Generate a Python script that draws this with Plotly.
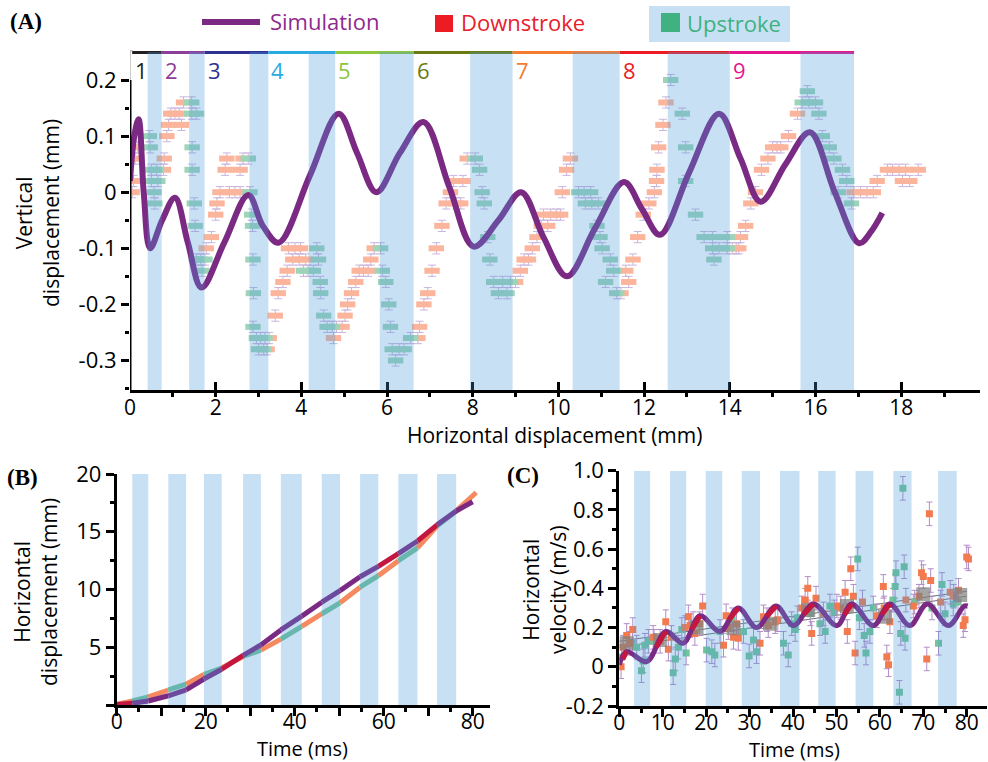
import plotly.graph_objects as go

W, H = 988, 762
FONT = "Open Sans"

# ---------------- Panel A data ----------------
A_band_start = [0.41, 1.38, 2.79, 4.17, 5.83, 7.94, 10.33, 12.55, 15.65]
A_band_end = [0.74, 1.74, 3.23, 4.79, 6.62, 8.93, 11.43, 14.00, 16.90]
stroke_labels = ["1", "2", "3", "4", "5", "6", "7", "8", "9"]
stroke_start = [0.05, 0.74, 1.74, 3.23, 4.79, 6.62, 8.93, 11.43, 14.00]
stroke_end = [0.74, 1.74, 3.23, 4.79, 6.62, 8.93, 11.43, 14.00, 16.90]
stroke_colors = ["#231f20", "#8b3f97", "#2e3092", "#29abe2", "#8dc63f",
                 "#6b7b12", "#f47b30", "#ed1c24", "#e4168a"]

sim_x = [0.0, 0.1, 0.2, 0.32, 0.47, 0.75, 1.05, 1.35, 1.67, 2.2, 2.76, 3.1, 3.47,
         4.2, 4.87, 5.3, 5.75, 6.3, 6.85, 7.45, 8.02, 8.6, 9.13, 9.65, 10.2,
         10.85, 11.53, 11.95, 12.37, 13.05, 13.75, 14.25, 14.72, 15.3, 15.87,
         16.45, 17.02, 17.3, 17.56]
sim_y = [0.02, 0.10, 0.13, 0.0, -0.10, -0.05, -0.01, -0.09, -0.17, -0.09, -0.005,
         -0.06, -0.09, 0.03, 0.14, 0.07, 0.0, 0.07, 0.125, 0.01, -0.097, -0.05,
         0.0, -0.08, -0.15, -0.065, 0.018, -0.03, -0.076, 0.035, 0.14, 0.06,
         -0.017, 0.05, 0.107, 0.0, -0.091, -0.07, -0.037]

down_x = [0.05, 0.08, 0.12, 0.18,
          0.78, 0.80, 0.86, 0.90, 0.95, 1.05, 1.15, 1.20, 1.25,
          1.78, 1.90, 2.00, 2.03, 2.10, 2.22, 2.26, 2.32, 2.45, 2.57, 2.57, 2.64,
          3.20, 3.25, 3.39, 3.46, 3.57, 3.67, 3.70, 3.80, 3.85, 3.95, 3.98, 4.10,
          4.75, 4.82, 4.95, 5.02, 5.08, 5.17, 5.27, 5.35, 5.45, 5.56, 5.62, 5.70,
          6.72, 6.76, 6.86, 6.95, 7.05, 7.15, 7.28, 7.38, 7.48, 7.55, 7.62, 7.72, 7.77, 7.87,
          9.00, 9.11, 9.20, 9.30, 9.39, 9.50, 9.60, 9.65, 9.75, 9.82, 9.95, 10.05, 10.09, 10.19, 10.28,
          11.46, 11.57, 11.64, 11.74, 11.85, 11.98, 12.11, 12.24, 12.29, 12.30, 12.34, 12.44, 12.51,
          14.06, 14.15, 14.21, 14.25, 14.37, 14.49, 14.60, 14.74, 14.89, 15.00, 15.10, 15.19, 15.37, 15.58,
          16.90, 17.05, 17.20, 17.35, 17.44, 17.68, 17.80, 17.95, 18.10, 18.03, 18.20, 18.40]
down_y = [0.0, 0.02, 0.06, 0.08,
          0.04, 0.06, 0.10, 0.12, 0.14, 0.14, 0.14, 0.12, 0.16,
          -0.10, -0.08, -0.04, -0.02, 0.0, 0.04, 0.06, 0.0, 0.0, 0.04, 0.0, 0.06,
          -0.28, -0.26, -0.22, -0.18, -0.16, -0.14, -0.10, -0.12, -0.10, -0.12, -0.10, -0.12,
          -0.26, -0.24, -0.24, -0.22, -0.20, -0.18, -0.16, -0.14, -0.14, -0.14, -0.12, -0.10,
          -0.26, -0.24, -0.20, -0.18, -0.14, -0.10, -0.06, -0.02, 0.0, 0.02, -0.02, -0.02, 0.02, 0.06,
          -0.16, -0.14, -0.12, -0.12, -0.10, -0.08, -0.06, -0.04, -0.06, -0.04, -0.04, -0.04, 0.0, 0.04, 0.06,
          -0.18, -0.14, -0.16, -0.12, -0.08, -0.04, -0.02, 0.0, 0.02, 0.04, 0.08, 0.12, 0.16,
          -0.10, -0.10, -0.10, -0.08, -0.06, -0.02, 0.0, 0.04, 0.06, 0.08, 0.08, 0.08, 0.10, 0.14,
          0.0, 0.0, 0.0, 0.0, 0.02, 0.04, 0.04, 0.04, 0.04, 0.02, 0.02, 0.04]

up_x = [0.45, 0.47, 0.50, 0.62, 0.50, 0.65, 0.56, 0.58,
        1.44, 1.44, 1.55, 1.45, 1.45, 1.50, 1.52, 1.55, 1.65, 1.75, 1.68,
        2.76, 2.80, 2.84, 2.86, 2.87, 2.88, 2.87, 2.95, 3.05, 3.00, 3.12, 3.15,
        4.05, 4.15, 4.28, 4.36, 4.40, 4.44, 4.45, 4.52, 4.60, 4.72,
        5.85, 5.89, 5.97, 6.04, 6.08, 6.12, 6.20, 6.28, 6.40, 6.55,
        8.06, 8.16, 8.22, 8.27, 8.35, 8.40, 8.49, 8.60, 8.70, 8.80, 8.88,
        10.47, 10.60, 10.75, 10.63, 10.78, 10.93, 10.90, 10.97, 11.02, 11.10, 11.21, 11.29, 11.36,
        12.62, 12.89, 12.97, 12.97, 13.20, 13.40, 13.60, 13.60, 13.75, 13.63, 13.94, 13.94,
        15.69, 15.81, 15.85, 16.00, 16.08, 16.16, 16.32, 16.43, 16.53, 16.63, 16.73, 16.84]
up_y = [0.10, 0.08, 0.04, 0.04, 0.02, 0.02, 0.0, -0.02,
        0.16, 0.14, 0.14, 0.08, 0.04, -0.02, -0.06, -0.12, -0.12, -0.12, -0.14,
        0.06, 0.0, -0.04, -0.06, -0.12, -0.18, -0.24, -0.26, -0.26, -0.28, -0.28, -0.26,
        -0.14, -0.14, -0.14, -0.10, -0.12, -0.16, -0.18, -0.22, -0.24, -0.24,
        -0.10, -0.14, -0.16, -0.20, -0.24, -0.28, -0.30, -0.28, -0.28, -0.26,
        0.06, 0.04, 0.0, -0.02, -0.08, -0.12, -0.16, -0.18, -0.16, -0.18, -0.16,
        0.0, 0.0, 0.0, -0.02, -0.02, -0.02, -0.06, -0.08, -0.10, -0.16, -0.12, -0.14, -0.18,
        0.20, 0.14, 0.08, 0.02, -0.04, -0.08, -0.08, -0.10, -0.10, -0.12, -0.10, -0.08,
        0.16, 0.18, 0.16, 0.16, 0.14, 0.10, 0.08, 0.06, 0.0, 0.04, 0.02, -0.02]
A_err = 0.01

# ---------------- Panel B data ----------------
B_band_start = [3.5, 11.6, 19.6, 28.4, 36.9, 46.1, 54.7, 63.3, 72.0]
B_band_end = [7.1, 15.6, 23.6, 32.4, 41.6, 50.2, 58.8, 67.6, 76.3]
B_t_exp = [0, 3.5, 7.1, 11.6, 15.6, 19.6, 23.6, 28.4, 32.4, 36.9, 41.6, 46.1,
           50.2, 54.7, 58.8, 63.3, 67.6, 72.0, 76.3, 80.8]
B_exp = [0.05, 0.35, 0.7, 1.3, 1.8, 2.65, 3.2, 4.2, 4.75, 5.7, 6.8, 7.9,
         8.85, 10.2, 11.2, 12.5, 13.6, 15.5, 16.8, 18.4]
B_t_sim = [0, 3.5, 7.1, 11.6, 15.6, 19.6, 23.6, 28.4, 32.4, 36.9, 41.6, 46.1,
           50.2, 54.7, 58.8, 63.3, 67.6, 72.0, 76.3, 80.0]
B_sim = [0.05, 0.15, 0.35, 0.8, 1.3, 2.25, 3.1, 4.3, 5.2, 6.5, 7.7, 8.9,
         9.9, 11.1, 12.0, 13.1, 14.2, 15.6, 16.8, 17.6]
B_sim_red_segments = [0, 6, 14, 16]

# ---------------- Panel C data ----------------
C_band_start = [3.4, 11.7, 19.9, 28.2, 37.0, 45.8, 54.4, 63.1, 73.4]
C_band_end = [7.1, 15.4, 23.7, 32.4, 41.5, 49.8, 58.5, 67.3, 77.7]
C_sim_t = [0, 1.7, 6.3, 10.7, 14.7, 18.6, 23.2, 27.4, 31.6, 36.1, 40.1, 44.7,
           50.1, 53.5, 58.5, 62.3, 66.9, 70.9, 75.8, 79.4, 80.2]
C_sim_v = [0.01, 0.077, 0.026, 0.18, 0.12, 0.26, 0.18, 0.30, 0.20, 0.31, 0.21, 0.32,
           0.21, 0.32, 0.21, 0.32, 0.21, 0.32, 0.21, 0.31, 0.31]
C_red_t0 = [0.8, 8.5, 16.7, 25.3, 33.9, 42.4, 51.8, 60.4]
C_red_v0 = [0.04, 0.10, 0.19, 0.24, 0.255, 0.265, 0.265, 0.265]
C_red_t1 = [1.7, 10.7, 18.6, 27.4, 36.1, 44.7, 53.5, 62.3]
C_red_v1 = [0.077, 0.18, 0.26, 0.30, 0.31, 0.32, 0.32, 0.32]

C_down_t = [0.4, 0.9, 1.7, 3.1, 7.8, 9.4, 10.7, 11.3, 15.1, 15.9, 16.3, 17.4, 19.2,
            24.0, 24.6, 25.1, 26.3, 27.4, 32.4, 33.2, 34.3, 35.9, 42.8, 43.4, 44.3,
            45.3, 50.1, 52.0, 52.5, 53.3, 53.9, 54.3, 59.3, 60.8, 61.6, 62.0, 62.3,
            67.7, 69.6, 70.0, 70.8, 71.4, 71.7, 76.2, 78.1, 79.2, 79.6, 80.0, 80.4,
            2.4, 12.0, 18.5, 27.0, 36.5, 42.0, 47.0, 51.0, 56.0, 61.0, 66.0, 69.0, 74.0, 77.0]
C_down_v = [0.0, 0.10, 0.16, 0.19, 0.15, 0.13, 0.23, 0.09, 0.20, 0.255, 0.21, 0.17, 0.31,
            0.11, 0.26, 0.20, 0.15, 0.145, 0.12, 0.255, 0.21, 0.23, 0.34, 0.40, 0.17,
            0.35, 0.31, 0.38, 0.18, 0.50, 0.36, 0.07, 0.26, 0.41, 0.05, 0.01, 0.23,
            0.31, 0.48, 0.46, 0.04, 0.78, 0.44, 0.38, 0.39, 0.21, 0.24, 0.56, 0.55,
            0.12, 0.15, 0.22, 0.22, 0.24, 0.30, 0.27, 0.30, 0.33, 0.30, 0.34, 0.36, 0.33, 0.36]
C_up_t = [0.5, 4.0, 5.1, 5.5, 5.9, 6.7, 12.4, 12.9, 13.6, 14.4, 15.4, 20.1, 21.3,
          22.0, 23.2, 28.6, 29.9, 30.9, 31.6, 37.8, 38.9, 39.7, 40.5, 46.2, 47.4,
          48.5, 54.9, 55.3, 56.4, 56.8, 57.7, 63.5, 63.7, 64.5, 64.8, 65.3, 65.6,
          65.8, 73.5, 74.3, 75.0, 76.9,
          3.0, 8.0, 17.0, 26.0, 34.0, 41.0, 44.0, 49.5, 58.5, 63.0, 68.0, 72.0, 78.0]
C_up_v = [0.05, 0.10, -0.02, 0.03, 0.11, 0.13, -0.03, 0.04, 0.10, 0.19, 0.07, 0.085, 0.077,
          0.06, 0.18, 0.18, 0.055, 0.136, 0.077, 0.12, 0.06, 0.22, 0.19, 0.22, 0.18,
          0.31, 0.55, 0.25, 0.16, 0.07, 0.18, 0.41, 0.48, -0.13, 0.17, 0.91, 0.51,
          0.145, 0.12, 0.42, 0.27, 0.32,
          0.12, 0.13, 0.22, 0.24, 0.24, 0.25, 0.27, 0.28, 0.30, 0.34, 0.33, 0.30, 0.33]
C_err = 0.06
C_mean_t = [1.7, 9.4, 17.8, 26.3, 34.7, 43.5, 52.4, 61.2, 70.0, 78.5]
C_mean_v = [0.12, 0.136, 0.20, 0.196, 0.22, 0.29, 0.31, 0.255, 0.37, 0.366]
C_fit_t = [0, 80]
C_fit1 = [0.13, 0.385]
C_fit2 = [0.10, 0.36]

for a, b in [(down_x, down_y), (up_x, up_y), (sim_x, sim_y), (C_down_t, C_down_v),
             (C_up_t, C_up_v), (B_t_exp, B_exp), (B_t_sim, B_sim), (C_sim_t, C_sim_v)]:
    assert len(a) == len(b), (len(a), len(b))

# ---------------- colours ----------------
SIM = "#7b2a84"
CRIMSON = "#c4173f"
SALMON = "#fbb59d"
MINT = "#9ed4b9"
ORANGE_B = "#f5895f"
GREEN_B = "#74c49c"
ORANGE_C = "#f37a4e"
GREEN_C = "#73c597"
ERRC = "#c9b5dc"
BAND = "#4898da"


def fx(px):
    return px / W


def fy(py):
    return 1 - py / H


fig = go.Figure()

# ---------------- Panel A traces ----------------
for s, e, c in zip(stroke_start, stroke_end, stroke_colors):
    fig.add_trace(go.Scatter(x=[s, e], y=[0.249, 0.249], mode="lines",
                             line=dict(color=c, width=3), xaxis="x", yaxis="y",
                             showlegend=False, hoverinfo="skip"))

fig.add_trace(go.Scatter(
    x=down_x, y=down_y, mode="markers", xaxis="x", yaxis="y", showlegend=False,
    marker=dict(symbol="line-ew", size=11, color=SALMON, line=dict(color=SALMON, width=6)),
    error_y=dict(type="constant", value=A_err, color=ERRC, thickness=1, width=4)))
fig.add_trace(go.Scatter(
    x=up_x, y=up_y, mode="markers", xaxis="x", yaxis="y", showlegend=False,
    marker=dict(symbol="line-ew", size=11, color=MINT, line=dict(color=MINT, width=6)),
    error_y=dict(type="constant", value=A_err, color=ERRC, thickness=1, width=4)))
fig.add_trace(go.Scatter(x=sim_x, y=sim_y, mode="lines", xaxis="x", yaxis="y",
                         line=dict(color=SIM, width=6, shape="spline", smoothing=1.0),
                         showlegend=False))

# ---------------- Panel B traces ----------------
for i in range(len(B_t_exp) - 1):
    col = GREEN_B if i % 2 == 1 else ORANGE_B
    fig.add_trace(go.Scatter(x=B_t_exp[i:i + 2], y=B_exp[i:i + 2], mode="lines",
                             xaxis="x2", yaxis="y2", showlegend=False,
                             line=dict(color=col, width=5)))
for i in range(len(B_t_sim) - 1):
    col = CRIMSON if i in B_sim_red_segments else SIM
    fig.add_trace(go.Scatter(x=B_t_sim[i:i + 2], y=B_sim[i:i + 2], mode="lines",
                             xaxis="x2", yaxis="y2", showlegend=False,
                             line=dict(color=col, width=5)))

# ---------------- Panel C traces ----------------
fig.add_trace(go.Scatter(x=C_fit_t, y=C_fit1, mode="lines", xaxis="x3", yaxis="y3",
                         line=dict(color="#707070", width=1), showlegend=False))
fig.add_trace(go.Scatter(x=C_fit_t, y=C_fit2, mode="lines", xaxis="x3", yaxis="y3",
                         line=dict(color="#707070", width=1), showlegend=False))
fig.add_trace(go.Scatter(
    x=C_up_t, y=C_up_v, mode="markers", xaxis="x3", yaxis="y3", showlegend=False,
    marker=dict(symbol="square", size=7, color=GREEN_C),
    error_y=dict(type="constant", value=C_err, color="#b28dc8", thickness=1, width=3)))
fig.add_trace(go.Scatter(
    x=C_down_t, y=C_down_v, mode="markers", xaxis="x3", yaxis="y3", showlegend=False,
    marker=dict(symbol="square", size=7, color=ORANGE_C),
    error_y=dict(type="constant", value=C_err, color="#b28dc8", thickness=1, width=3)))
fig.add_trace(go.Scatter(x=C_mean_t, y=C_mean_v, mode="markers", xaxis="x3", yaxis="y3",
                         marker=dict(symbol="square", size=14, color="#7f7f7f", opacity=0.7),
                         showlegend=False))
fig.add_trace(go.Scatter(x=C_sim_t, y=C_sim_v, mode="lines", xaxis="x3", yaxis="y3",
                         line=dict(color=SIM, width=5, shape="spline", smoothing=1.0),
                         showlegend=False))
for t0, v0, t1, v1 in zip(C_red_t0, C_red_v0, C_red_t1, C_red_v1):
    fig.add_trace(go.Scatter(x=[t0, t1], y=[v0, v1], mode="lines", xaxis="x3", yaxis="y3",
                             line=dict(color=CRIMSON, width=5), showlegend=False))

# ---------------- bands ----------------
shapes = []
for s, e in zip(A_band_start, A_band_end):
    shapes.append(dict(type="rect", xref="x", yref="y", x0=s, x1=e, y0=-0.3526, y1=0.2499,
                       fillcolor=BAND, opacity=0.3, line=dict(width=0), layer="above"))
for s, e in zip(B_band_start, B_band_end):
    shapes.append(dict(type="rect", xref="x2", yref="y2", x0=s, x1=e, y0=0, y1=20,
                       fillcolor=BAND, opacity=0.3, line=dict(width=0), layer="above"))
for s, e in zip(C_band_start, C_band_end):
    shapes.append(dict(type="rect", xref="x3", yref="y3", x0=s, x1=e, y0=-0.2, y1=1.0,
                       fillcolor=BAND, opacity=0.3, line=dict(width=0), layer="above"))
# y axis line of A (black up to 0.2, thin grey bracket above)
shapes.append(dict(type="line", xref="x", yref="y", x0=0, x1=0, y0=-0.3526, y1=0.2,
                   line=dict(color="black", width=3), layer="above"))
shapes.append(dict(type="line", xref="x", yref="y", x0=0, x1=0, y0=0.2, y1=0.252,
                   line=dict(color="#999999", width=1), layer="above"))
shapes.append(dict(type="line", xref="x", yref="y", x0=0, x1=0.06, y0=0.252, y1=0.252,
                   line=dict(color="#999999", width=1), layer="above"))
# legend of A
shapes.append(dict(type="line", xref="paper", yref="paper", x0=fx(202), x1=fx(260),
                   y0=fy(22), y1=fy(22), line=dict(color=SIM, width=6)))
shapes.append(dict(type="rect", xref="paper", yref="paper", x0=fx(435), x1=fx(453),
                   y0=fy(32), y1=fy(15), fillcolor="#ed1c24", line=dict(width=0)))
shapes.append(dict(type="rect", xref="paper", yref="paper", x0=fx(649), x1=fx(790),
                   y0=fy(42), y1=fy(6), fillcolor="#c8e0f4", line=dict(width=0)))
shapes.append(dict(type="rect", xref="paper", yref="paper", x0=fx(661), x1=fx(680),
                   y0=fy(32), y1=fy(13), fillcolor="#3fb27f", line=dict(width=0)))

ann = []


def txt(text, px, py, size=20, color="black", family=FONT, xanchor="center",
        yanchor="middle", angle=0, **kw):
    ann.append(dict(text=text, x=fx(px), y=fy(py), xref="paper", yref="paper",
                    showarrow=False, font=dict(size=size, color=color, family=family),
                    xanchor=xanchor, yanchor=yanchor, textangle=angle, **kw))


txt("<b>(A)</b>", 8, 22, size=23, family="Liberation Serif", xanchor="left")
txt("<b>(B)</b>", 5, 477, size=23, family="Liberation Serif", xanchor="left")
txt("<b>(C)</b>", 505, 475, size=23, family="Liberation Serif", xanchor="left")
txt("Simulation", 268, 21, size=22, color="#8e2a8e", xanchor="left")
txt("Downstroke", 459, 22, size=22, color="#e8202a", xanchor="left")
txt("Upstroke", 685, 23, size=22, color="#3fb27f", xanchor="left")
for lab, s, c in zip(stroke_labels, stroke_start, stroke_colors):
    ann.append(dict(text=lab, x=s, y=0.218, xref="x", yref="y", showarrow=False,
                    xanchor="left", yanchor="middle", xshift=1,
                    font=dict(size=22, color=c, family=FONT)))
txt("Horizontal displacement (mm)", 405, 435, size=21, xanchor="left")
txt("Vertical<br>displacement (mm)", 38, 213, size=21, angle=-90)
txt("Time (ms)", 302, 748, size=20)
txt("Horizontal<br>displacement (mm)", 35, 592, size=21, angle=-90)
txt("Time (ms)", 794, 749, size=20)
txt("Horizontal<br>velocity (m/s)", 544, 590, size=21, angle=-90)

axfont = dict(family=FONT, size=22, color="black")
xfont = dict(family=FONT, size=21, color="black")
common = dict(showgrid=False, zeroline=False, tickfont=axfont, ticks="outside",
              ticklen=8, tickwidth=3, tickcolor="black", linecolor="black", linewidth=3,
              automargin=False)

layout = dict(
    width=W, height=H, autosize=False,
    margin=dict(l=0, r=0, t=0, b=0, pad=0, autoexpand=False),
    paper_bgcolor="white", plot_bgcolor="white",
    showlegend=False, shapes=shapes, annotations=ann,
    xaxis=dict(domain=[fx(130), fx(980)], range=[0, 19.84], anchor="y",
               tickvals=[0, 2, 4, 6, 8, 10, 12, 14, 16, 18], showline=True,
               ticklabelstandoff=-3,
               minor=dict(dtick=1, tick0=0, ticks="outside", ticklen=4, tickwidth=3,
                          tickcolor="black"),
               **{**common, "ticks": "inside", "tickfont": xfont}),
    yaxis=dict(domain=[fy(390), fy(50)], range=[-0.3526, 0.2535], anchor="x",
               tickvals=[-0.3, -0.2, -0.1, 0, 0.1, 0.2],
               ticktext=["-0.3", "-0.2", "-0.1", "0", "0.1", "0.2"], showline=False,
               minor=dict(tickvals=[-0.35, -0.25, -0.15, -0.05, 0.05, 0.15], ticks="outside",
                          ticklen=4, tickwidth=3, tickcolor="black"),
               **common),
    xaxis2=dict(domain=[fx(116.7), fx(490)], range=[0, 83.9], anchor="y2",
                tickvals=[0, 10, 20, 30, 40, 50, 60, 70, 80],
                ticktext=["0", "", "20", "", "40", "", "60", "", "80"], showline=True,
                ticklabelstandoff=-12,
                minor=dict(dtick=5, tick0=0, ticks="outside", ticklen=4, tickwidth=3,
                           tickcolor="black"),
                **{**common, "tickfont": xfont}),
    yaxis2=dict(domain=[fy(705), fy(474)], range=[0, 20], anchor="x2",
                tickvals=[0, 5, 10, 15, 20], ticktext=["", "5", "10", "15", "20"],
                showline=True,
                minor=dict(dtick=2.5, tick0=0, ticks="outside", ticklen=4, tickwidth=3,
                           tickcolor="black"),
                **common),
    xaxis3=dict(domain=[fx(619.3), fx(986.7)], range=[0, 84.6], anchor="y3",
                tickvals=[0, 10, 20, 30, 40, 50, 60, 70, 80], showline=True,
                ticklabelstandoff=-12,
                minor=dict(dtick=5, tick0=0, ticks="outside", ticklen=4, tickwidth=3,
                           tickcolor="black"),
                **{**common, "tickfont": xfont}),
    yaxis3=dict(domain=[fy(706), fy(470.7)], range=[-0.2, 1.0], anchor="x3",
                tickvals=[-0.2, 0, 0.2, 0.4, 0.6, 0.8, 1.0],
                ticktext=["-0.2", "0", "0.2", "0.4", "0.6", "0.8", "1.0"], showline=True,
                minor=dict(dtick=0.1, tick0=0, ticks="outside", ticklen=4, tickwidth=3,
                           tickcolor="black"),
                **common),
)
fig.update_layout(**layout)

fig.write_html("out.html", config={"displayModeBar": False},
               post_script="document.body.style.margin='0';document.body.style.overflow='hidden';")
